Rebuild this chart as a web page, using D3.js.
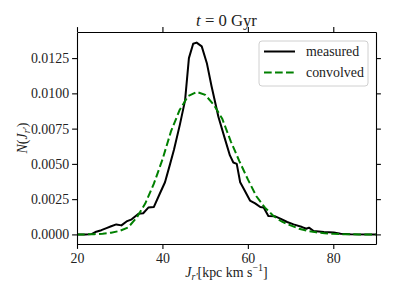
<!DOCTYPE html>
<html>
<head>
<meta charset="utf-8">
<script src="https://cdn.jsdelivr.net/npm/d3@7"></script>
<style>
  body { margin: 0; background: #fff; }
  svg { display: block; font-family: "Liberation Serif", "DejaVu Serif", serif; }
</style>
</head>
<body>
<svg width="399" height="299"></svg>
<script>
// measured distribution (histogram-like)
var measuredJ = [20, 22, 23.4, 24.5, 25.7, 26.9, 28, 29.2, 30.4, 31.6, 32.8, 34.4, 35.5, 36.7, 38, 39.4,
  40.6, 41.8, 42.7, 44.1, 45.3, 46.2, 47.2, 48, 49.2, 50.4, 51.5, 53.1, 54.7, 55.8, 56.6, 57.4, 58.2, 59,
  60.5, 61.7, 62.9, 63.7, 64.8, 66.4, 67.6, 69.2, 70.7, 72.7, 73.7, 74.3, 75.4, 77.8, 80.1, 81.7, 84, 90];
var measuredN = [0, 0, 0.00002, 0.00019, 0.0003, 0.00045, 0.00058, 0.00071, 0.00064, 0.00092, 0.00107,
  0.00147, 0.0015, 0.0019, 0.00195, 0.0029, 0.0037, 0.005, 0.006, 0.0078, 0.0095, 0.0125, 0.01352, 0.0136,
  0.01333, 0.01214, 0.0105, 0.00834, 0.0067, 0.0056, 0.0051, 0.005, 0.0037, 0.00325, 0.0024, 0.0022,
  0.00194, 0.0019, 0.0013, 0.00128, 0.00112, 0.00088, 0.00071, 0.00052, 0.0004, 0.00048, 0.00024,
  0.00017, 0.00014, 0.00005, 0.00001, 0];

// convolved curve
var convolvedJ = [20, 22, 24, 26, 28, 30, 32, 34, 36, 38, 40, 42, 44, 46, 48, 50, 52, 54, 56, 58, 60,
  62, 64, 66, 68, 70, 72, 74, 76, 78, 80, 82, 84, 86, 88, 90];
var convolvedN = [0, 0, 0.00002, 0.00005, 0.00012, 0.00025, 0.0005, 0.0012, 0.0022, 0.0036, 0.0053,
  0.0073, 0.0088, 0.0098, 0.0101, 0.0099, 0.0092, 0.0082, 0.0066, 0.0052, 0.0039, 0.0027, 0.0019,
  0.0013, 0.0009, 0.00064, 0.0004, 0.00025, 0.00015, 0.00008, 0.00004, 0.00002, 0.00001, 0, 0, 0];

var xTicks = [20, 40, 60, 80];
var yTicks = [0, 0.0025, 0.005, 0.0075, 0.01, 0.0125];

var svg = d3.select("svg"),
    margin = {top: 32, right: 23, bottom: 55, left: 77},
    width = 376 - margin.left,
    height = 244 - margin.top;

var x = d3.scaleLinear().domain([20, 90]).range([0, width]),
    y = d3.scaleLinear().domain([-0.00068, 0.01435]).range([height, 0]);

var g = svg.append("g")
    .attr("transform", "translate(" + margin.left + "," + margin.top + ")");

g.append("defs").append("clipPath")
    .attr("id", "clip")
  .append("rect")
    .attr("width", width)
    .attr("height", height);

var line = d3.line()
    .x(function(d) { return x(d[0]); })
    .y(function(d) { return y(d[1]); });

var measured = measuredJ.map(function(v, i) { return [v, measuredN[i]]; });
var convolved = convolvedJ.map(function(v, i) { return [v, convolvedN[i]]; });

g.append("path")
    .attr("clip-path", "url(#clip)")
    .attr("d", line(measured))
    .attr("fill", "none")
    .attr("stroke", "#000")
    .attr("stroke-width", 2)
    .attr("stroke-linejoin", "round");

g.append("path")
    .attr("clip-path", "url(#clip)")
    .attr("d", line(convolved))
    .attr("fill", "none")
    .attr("stroke", "#008000")
    .attr("stroke-width", 2)
    .attr("stroke-dasharray", "7.7,3.3");

// axes on all four sides, labels only bottom/left
function styleAxis(sel) {
  sel.select(".domain").attr("stroke", "#000").attr("stroke-width", 1.1);
  sel.selectAll(".tick line").attr("stroke", "#000").attr("stroke-width", 1.1);
  sel.selectAll(".tick text")
    .attr("fill", "#222")
    .style("font-family", "'Liberation Serif', serif")
    .style("font-size", "13.9px");
}

g.append("g")
    .attr("transform", "translate(0," + height + ")")
    .call(d3.axisBottom(x).tickValues(xTicks).tickSizeInner(4.9).tickSizeOuter(0).tickPadding(4))
    .call(styleAxis);

g.append("g")
    .call(d3.axisTop(x).tickValues(xTicks).tickSizeInner(4.9).tickSizeOuter(0).tickFormat(""))
    .call(styleAxis);

g.append("g")
    .call(d3.axisLeft(y).tickValues(yTicks).tickSizeInner(4.9).tickSizeOuter(0).tickPadding(3)
      .tickFormat(d3.format(".4f")))
    .call(styleAxis);

g.append("g")
    .attr("transform", "translate(" + width + ",0)")
    .call(d3.axisRight(y).tickValues(yTicks).tickSizeInner(4.9).tickSizeOuter(0).tickFormat(""))
    .call(styleAxis);

// title
var title = svg.append("text")
    .attr("x", margin.left + width / 2)
    .attr("y", 26)
    .attr("text-anchor", "middle")
    .style("font-size", "16.7px")
    .attr("fill", "#222");
title.append("tspan").style("font-style", "italic").text("t");
title.append("tspan").text(" = 0 Gyr");

// y label
var ylab = svg.append("text")
    .attr("transform", "translate(" + 27 + "," + (margin.top + height / 2) + ")rotate(-90)")
    .attr("text-anchor", "middle")
    .style("font-size", "13.9px")
    .attr("fill", "#222");
ylab.append("tspan").style("font-style", "italic").text("N");
ylab.append("tspan").text("(");
ylab.append("tspan").style("font-style", "italic").text("J");
ylab.append("tspan").style("font-style", "italic").style("font-size", "10px").attr("dy", 3).text("r\u2032");
ylab.append("tspan").attr("dy", -3).text(")");

// x label
var xlab = svg.append("text")
    .attr("x", margin.left + width / 2)
    .attr("y", 277)
    .attr("text-anchor", "middle")
    .style("font-size", "13.9px")
    .attr("fill", "#222");
xlab.append("tspan").style("font-style", "italic").text("J");
xlab.append("tspan").style("font-style", "italic").style("font-size", "10px").attr("dy", 3).text("r\u2032");
xlab.append("tspan").attr("dy", -3).text("[kpc km s");
xlab.append("tspan").style("font-size", "10px").attr("dy", -6).text("\u22121");
xlab.append("tspan").attr("dy", 6).text("]");

// legend
var legend = svg.append("g").attr("transform", "translate(259,41)");
legend.append("rect")
    .attr("width", 109)
    .attr("height", 45)
    .attr("rx", 3)
    .attr("fill", "#fff")
    .attr("fill-opacity", 0.8)
    .attr("stroke", "#d0d0d0")
    .attr("stroke-width", 1);

var legendItems = [
  {label: "measured", color: "#000", dash: null},
  {label: "convolved", color: "#008000", dash: "7.7,3.3"}
];
legendItems.forEach(function(d, i) {
  var yy = 10.5 + i * 21;
  legend.append("line")
      .attr("x1", 5).attr("x2", 36)
      .attr("y1", yy).attr("y2", yy)
      .attr("stroke", d.color)
      .attr("stroke-width", 2)
      .attr("stroke-dasharray", d.dash);
  legend.append("text")
      .attr("x", 47)
      .attr("y", yy + 4.5)
      .style("font-size", "13.9px")
      .attr("fill", "#222")
      .text(d.label);
});
</script>
</body>
</html>
